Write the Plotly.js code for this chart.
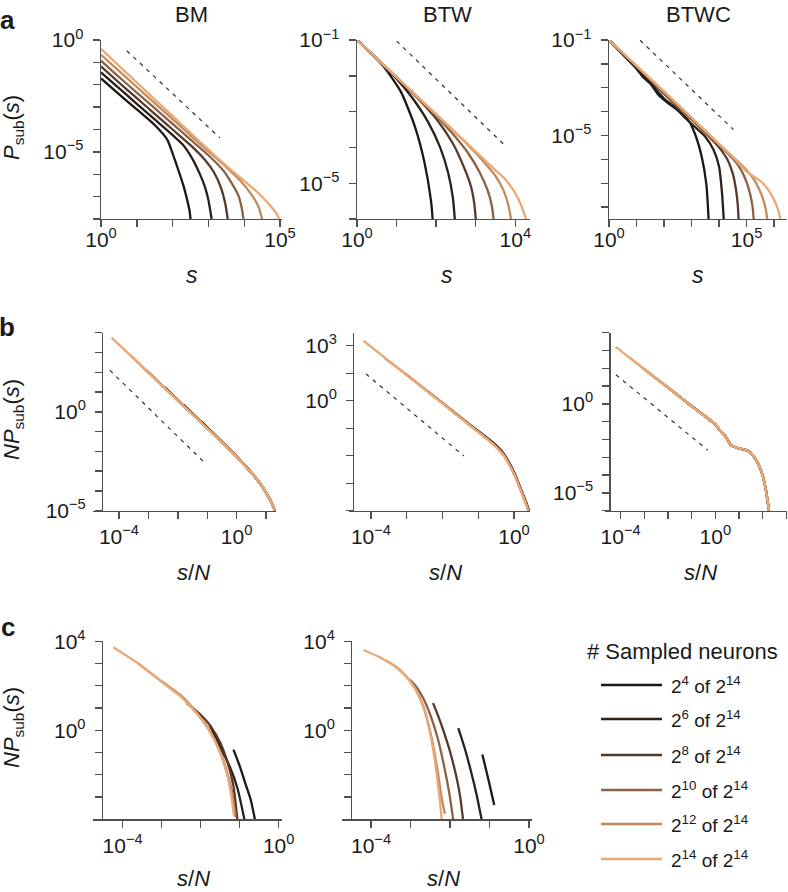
<!DOCTYPE html>
<html><head><meta charset="utf-8">
<script src="https://cdn.plot.ly/plotly-3.0.1.min.js"></script>
<style>html,body{margin:0;padding:0;background:#fff}#chart{width:788px;height:892px}</style>
</head><body><div id="chart"></div>
<script>
const W = 788, H = 892;
const pw = v => Math.pow(10, v);

// Sample sizes (# sampled neurons out of 2^14) and colours
const sampleLabels = ['2<sup>4</sup> of 2<sup>14</sup>', '2<sup>6</sup> of 2<sup>14</sup>', '2<sup>8</sup> of 2<sup>14</sup>',
                      '2<sup>10</sup> of 2<sup>14</sup>', '2<sup>12</sup> of 2<sup>14</sup>', '2<sup>14</sup> of 2<sup>14</sup>'];
const colors = ['#1b1816', '#2b1f18', '#56392a', '#8b6244', '#c58a5c', '#eba877'];

// ---- Row a: log10(s) vs log10(P_sub(s)) ----
const aBM_x = [
  [0,0.5,1,1.5,1.85,2.05,2.2,2.3,2.4,2.47,2.5],
  [0,0.5,1,1.5,2,2.3,2.55,2.75,2.9,3.0,3.09],
  [0,0.5,1,1.5,2,2.5,2.9,3.15,3.35,3.47,3.54],
  [0,0.5,1,1.5,2,2.5,3,3.4,3.65,3.85,3.93,3.98],
  [0,0.5,1,1.5,2,2.5,3,3.5,3.9,4.2,4.4,4.5],
  [0,0.5,1,1.5,2,2.5,3,3.5,4,4.4,4.7,4.9,4.98]];
const aBM_y = [
  [-1.72,-2.42,-3.1,-3.8,-4.45,-5.3,-6.0,-6.5,-7.1,-7.6,-8.0],
  [-1.45,-2.15,-2.85,-3.55,-4.25,-4.7,-5.3,-5.95,-6.55,-7.15,-8.0],
  [-1.18,-1.9,-2.6,-3.3,-4.0,-4.7,-5.35,-5.9,-6.6,-7.3,-8.0],
  [-0.92,-1.65,-2.35,-3.05,-3.75,-4.45,-5.15,-5.8,-6.4,-7.0,-7.5,-8.0],
  [-0.66,-1.38,-2.1,-2.82,-3.54,-4.26,-4.98,-5.68,-6.3,-6.9,-7.45,-8.0],
  [-0.40,-1.15,-1.9,-2.65,-3.4,-4.15,-4.9,-5.62,-6.3,-6.85,-7.35,-7.75,-8.0]];

const aBTW_x = [
  [0,0.35,0.69,1.11,1.45,1.7,1.87,1.91],
  [0,0.6,1,1.4,1.8,2.1,2.3,2.42,2.47],
  [0,1,1.6,2.0,2.4,2.7,2.88,2.96,3.0],
  [0,1,2,2.4,2.8,3.1,3.3,3.4,3.45],
  [0,1,2,2.8,3.2,3.5,3.7,3.82,3.89],
  [0,1,2,3,3.5,3.72,3.97,4.14,4.27]];
const aBTW_y = [
  [-1,-1.36,-1.76,-2.45,-3.38,-4.4,-5.5,-6.0],
  [-1,-1.63,-2.08,-2.62,-3.3,-4.0,-4.7,-5.4,-6.0],
  [-1,-2.05,-2.7,-3.2,-3.85,-4.55,-5.1,-5.55,-6.0],
  [-1,-2.04,-3.12,-3.6,-4.15,-4.7,-5.2,-5.6,-6.0],
  [-1,-2.04,-3.08,-3.93,-4.4,-4.8,-5.2,-5.6,-6.0],
  [-1,-2.04,-3.08,-4.12,-4.64,-4.86,-5.23,-5.6,-6.0]];

const aBTWC_x = [
  [0,0.5,1,1.25,1.5,1.8,2.1,2.47,2.9,3.13,3.38,3.54,3.62],
  [0,1,1.3,1.6,2,2.4,2.8,3.1,3.5,3.8,4.0,4.1,4.17],
  [0,1,2,3,3.6,4.0,4.3,4.5,4.62,4.68,4.71],
  [0,1,2,3,4,4.4,4.7,4.95,5.12,5.22,5.26],
  [0,1,2,3,4,4.6,5.0,5.3,5.55,5.7,5.75],
  [0,1,2,3,4,4.5,5.0,5.3,5.55,5.8,6.0,6.13,6.23]];
const aBTWC_y = [
  [-1,-1.6,-2.2,-2.57,-2.82,-3.3,-3.6,-3.92,-4.39,-4.95,-5.94,-7.06,-8.5],
  [-1,-2.18,-2.5,-2.92,-3.45,-3.82,-4.3,-4.62,-5.05,-5.6,-6.3,-7.3,-8.5],
  [-1,-2.12,-3.25,-4.33,-5.0,-5.5,-6.0,-6.6,-7.3,-7.9,-8.5],
  [-1,-2.1,-3.2,-4.3,-5.4,-5.85,-6.25,-6.8,-7.4,-8.0,-8.5],
  [-1,-2.09,-3.17,-4.27,-5.37,-6.0,-6.45,-6.9,-7.5,-8.1,-8.5],
  [-1,-2.08,-3.15,-4.25,-5.35,-5.9,-6.5,-6.75,-6.95,-7.3,-7.7,-8.05,-8.5]];

// ---- Row b: log10(s/N) vs log10(N P_sub(s)) ----
const bBM_x = [
  [-1.19,-0.11,0.3,0.6,0.91,1.14,1.25,1.31],
  [-1.81,-1,-0.11,0.3,0.6,0.91,1.14,1.25,1.31],
  [-2.44,-2,-1,-0.11,0.3,0.6,0.91,1.14,1.31],
  [-3.06,-2,-1,-0.11,0.3,0.6,0.91,1.14,1.31],
  [-3.62,-3,-2,-1,-0.11,0.3,0.6,0.91,1.14,1.31],
  [-4.25,-3,-2,-1,-0.11,0.3,0.6,0.91,1.14,1.25,1.31]];
const bBM_y = [
  [-0.5,-2.08,-2.73,-3.24,-3.86,-4.45,-4.8,-5.0],
  [0.36,-0.8,-2.08,-2.74,-3.25,-3.87,-4.46,-4.8,-5.0],
  [1.25,0.6,-0.82,-2.09,-2.75,-3.25,-3.87,-4.46,-5.0],
  [2.1,0.58,-0.83,-2.1,-2.75,-3.25,-3.87,-4.46,-5.0],
  [2.88,1.98,0.57,-0.84,-2.1,-2.75,-3.25,-3.87,-4.46,-5.0],
  [3.75,1.98,0.57,-0.84,-2.1,-2.75,-3.25,-3.87,-4.46,-4.8,-5.0]];

const bBTW_x = [
  [-1.2,-0.6,-0.3,0,0.2,0.33,0.42],
  [-1.8,-1.2,-0.6,-0.3,0,0.2,0.33,0.42],
  [-2.42,-2,-1.2,-0.6,-0.3,0,0.2,0.33,0.41],
  [-3.04,-2,-1.2,-0.6,-0.3,0,0.2,0.33,0.41],
  [-3.62,-3,-2,-1.2,-0.6,-0.3,0,0.2,0.32,0.4],
  [-4.21,-3,-2,-1.2,-0.6,-0.3,0,0.2,0.32,0.4]];
const bBTW_y = [
  [-1.37,-2.26,-2.86,-3.9,-4.85,-5.5,-6.0],
  [-0.44,-1.36,-2.28,-2.88,-3.92,-4.88,-5.5,-6.0],
  [0.52,-0.12,-1.37,-2.3,-2.9,-3.95,-4.9,-5.55,-6.0],
  [1.48,-0.13,-1.38,-2.32,-2.93,-3.97,-4.92,-5.55,-6.0],
  [2.32,1.41,-0.14,-1.4,-2.34,-2.95,-4.0,-4.95,-5.55,-6.0],
  [3.27,1.4,-0.15,-1.4,-2.35,-2.95,-4.0,-4.95,-5.55,-6.0]];

const bBTWC_x = [
  [-1.2,-1,0,0.2,0.45,0.65,1.0,1.4,1.7,1.95,2.12,2.27],
  [-1.8,-1,0,0.2,0.45,0.65,1.0,1.4,1.7,1.95,2.12,2.27],
  [-2.41,-2,-1,0,0.2,0.45,0.65,1.0,1.4,1.7,1.95,2.12,2.27],
  [-3.01,-2,-1,0,0.2,0.45,0.65,1.0,1.4,1.7,1.95,2.12,2.27],
  [-3.62,-3,-2,-1,0,0.2,0.45,0.65,1.0,1.4,1.7,1.95,2.12,2.27],
  [-4.21,-3,-2,-1,0,0.2,0.45,0.65,1.0,1.4,1.7,1.95,2.12,2.27]];
const bBTWC_y = [
  [0.08,-0.12,-1.15,-1.5,-1.85,-2.3,-2.5,-2.65,-3.1,-3.8,-4.7,-6.0],
  [0.72,-0.12,-1.15,-1.5,-1.85,-2.3,-2.5,-2.65,-3.1,-3.8,-4.7,-6.0],
  [1.35,0.92,-0.12,-1.15,-1.5,-1.85,-2.3,-2.5,-2.65,-3.1,-3.8,-4.7,-6.0],
  [1.96,0.92,-0.12,-1.15,-1.5,-1.85,-2.3,-2.5,-2.65,-3.1,-3.8,-4.7,-6.0],
  [2.6,1.95,0.92,-0.12,-1.15,-1.5,-1.85,-2.3,-2.5,-2.65,-3.1,-3.8,-4.7,-6.0],
  [3.2,1.95,0.92,-0.12,-1.15,-1.5,-1.85,-2.3,-2.5,-2.65,-3.1,-3.8,-4.7,-6.0]];

// ---- Row c: log10(s/N) vs log10(N P_sub(s)) ----
const cBM_x = [
  [-1.16,-1.0,-0.86,-0.72,-0.61],
  [-1.76,-1.5,-1.25,-1.05,-0.88],
  [-2.36,-2.0,-1.75,-1.5,-1.3,-1.16,-1.06],
  [-3.0,-2.5,-2.1,-1.8,-1.5,-1.3,-1.17,-1.1],
  [-3.6,-3.0,-2.5,-2.1,-1.8,-1.5,-1.29,-1.18,-1.13],
  [-4.24,-3.6,-3.0,-2.5,-2.1,-1.8,-1.5,-1.29,-1.2,-1.15]];
const cBM_y = [
  [-0.87,-1.6,-2.36,-3.1,-4.0],
  [0.2,-0.75,-1.65,-2.65,-4.0],
  [1.22,0.7,0.2,-0.55,-1.5,-2.5,-4.0],
  [2.2,1.55,0.8,0.08,-0.95,-2.05,-3.0,-3.9],
  [3.0,2.19,1.52,0.78,0.06,-0.98,-2.15,-3.1,-3.85],
  [3.73,3.0,2.19,1.5,0.76,0.05,-1.01,-2.21,-3.1,-3.8]];

const cBTW_x = [
  [-1.18,-1.03,-0.88],
  [-1.79,-1.62,-1.46,-1.32,-1.2],
  [-2.43,-2.3,-2.15,-2.0,-1.85,-1.75,-1.67],
  [-3.01,-2.85,-2.68,-2.5,-2.32,-2.15,-2.02,-1.92],
  [-3.6,-3.4,-3.1,-2.88,-2.68,-2.47,-2.32,-2.22,-2.13],
  [-4.19,-3.8,-3.4,-3.1,-2.88,-2.68,-2.47,-2.34,-2.26,-2.21]];
const cBTW_y = [
  [-1.09,-2.2,-3.36],
  [0.1,-0.85,-1.91,-2.95,-4.0],
  [1.22,0.65,-0.1,-0.95,-2.0,-2.9,-4.0],
  [2.27,1.95,1.45,0.7,-0.3,-1.6,-2.8,-4.0],
  [3.12,2.9,2.42,1.88,1.12,-0.3,-1.75,-2.95,-3.75],
  [3.61,3.3,2.88,2.4,1.85,1.07,-0.42,-1.91,-3.1,-4.0]];

// Reference power-law guide lines (dashed), log10 endpoints
const guide_aBM   = {x:[0.72,3.32],  y:[-0.48,-4.375]};
const guide_aBTW  = {x:[1.0,3.74],   y:[-1.03,-3.95]};
const guide_aBTWC = {x:[1.13,4.52],  y:[-1.01,-4.75]};
const guide_bBM   = {x:[-4.31,-1.07],y:[2.1,-2.6]};
const guide_bBTW  = {x:[-4.14,-1.4], y:[1.46,-3.02]};
const guide_bBTWC = {x:[-4.2,-0.32], y:[1.64,-2.6]};

// Tick exponents and labelled exponents
const ticks = {
  aBM_x:[0,1,2,3,4,5], aBM_xl:[0,5], aBM_y:[0,-1,-2,-3,-4,-5,-6,-7,-8], aBM_yl:[0,-5],
  aBTW_x:[0,1,2,3,4], aBTW_xl:[0,4], aBTW_y:[-1,-2,-3,-4,-5,-6], aBTW_yl:[-1,-5],
  aBTWC_x:[0,1,2,3,4,5,6], aBTWC_xl:[0,5], aBTWC_y:[-1,-2,-3,-4,-5,-6,-7,-8], aBTWC_yl:[-1,-5],
  bBM_x:[-4,-3,-2,-1,0,1], bBM_xl:[-4,0], bBM_y:[4,3,2,1,0,-1,-2,-3,-4,-5], bBM_yl:[0,-5],
  bBTW_x:[-4,-3,-2,-1,0], bBTW_xl:[-4,0], bBTW_y:[3,1.5,0,-1.5,-3,-4.5,-6], bBTW_yl:[3,0],
  bBTWC_x:[-4,-3,-2,-1,0,1,2,3], bBTWC_xl:[-4,0], bBTWC_y:[4,3,2,1,0,-1,-2,-3,-4,-5,-6], bBTWC_yl:[0,-5],
  cBM_x:[-4,-3,-2,-1,0], cBM_xl:[-4,0], cBM_y:[4,3,2,1,0,-1,-2,-3,-4], cBM_yl:[4,0],
  cBTW_x:[-4,-3,-2,-1,0], cBTW_xl:[-4,0], cBTW_y:[4,3,2,1,0,-1,-2,-3,-4], cBTW_yl:[4,0]
};

const traces = [];
function addPanel(xs, ys, xa, ya, guide) {
  xs.forEach((xl, i) => traces.push({
    type:'scatter', mode:'lines', x: xl.map(pw), y: ys[i].map(pw), xaxis: xa, yaxis: ya,
    line:{color: colors[i], width: 2.3, shape:'spline', smoothing:0.6}, showlegend:false, hoverinfo:'skip'}));
  if (guide) traces.push({type:'scatter', mode:'lines', x: guide.x.map(pw), y: guide.y.map(pw), xaxis: xa, yaxis: ya,
    line:{color:'#333', width:1.2, dash:'4px,5px'}, showlegend:false, hoverinfo:'skip'});
}
addPanel(aBM_x, aBM_y, 'x', 'y', guide_aBM);
addPanel(aBTW_x, aBTW_y, 'x2', 'y2', guide_aBTW);
addPanel(aBTWC_x, aBTWC_y, 'x3', 'y3', guide_aBTWC);
addPanel(bBM_x, bBM_y, 'x4', 'y4', guide_bBM);
addPanel(bBTW_x, bBTW_y, 'x5', 'y5', guide_bBTW);
addPanel(bBTWC_x, bBTWC_y, 'x6', 'y6', guide_bBTWC);
addPanel(cBM_x, cBM_y, 'x7', 'y7', null);
addPanel(cBTW_x, cBTW_y, 'x8', 'y8', null);

const sup = e => '10<sup>' + (e < 0 ? '\u2212' + (-e) : e) + '</sup>';
function axis(exps, labeled, range, extra, standoff) {
  return Object.assign({
    type:'log', range: range, showline:true, linecolor:'#505050', linewidth:1.4,
    ticks:'outside', ticklen:7, tickwidth:1.4, tickcolor:'#505050', showgrid:false, zeroline:false,
    tickmode:'array', tickvals: exps.map(pw), ticktext: exps.map(e => labeled.includes(e) ? sup(e) : ''),
    tickfont:{size:21, color:'#1a1a1a'}, fixedrange:true, ticklabelstandoff: standoff || 0
  }, extra);
}
const px = v => v / W, py = v => 1 - v / H;
const rowA = [py(219), py(40)], rowB = [py(510.7), py(332.7)], rowC = [py(819.3), py(641.3)];

const layout = {
  width: W, height: H, margin:{l:0, r:0, t:0, b:0},
  paper_bgcolor:'#fff', plot_bgcolor:'rgba(0,0,0,0)',
  font:{family:'Liberation Sans, Arial, Helvetica, sans-serif', size:18, color:'#1a1a1a'},
  showlegend:false,
  xaxis:  axis(ticks.aBM_x, ticks.aBM_xl, [0, 5.056], {domain:[px(101), px(282)], anchor:'y'}, -6),
  yaxis:  axis(ticks.aBM_y, ticks.aBM_yl, [-8, 0], {domain: rowA, anchor:'x'}, 5),
  xaxis2: axis(ticks.aBTW_x, ticks.aBTW_xl, [0, 4.369], {domain:[px(357), px(530)], anchor:'y2'}, -6),
  yaxis2: axis(ticks.aBTW_y, ticks.aBTW_yl, [-6, -1], {domain: rowA, anchor:'x2'}, 5),
  xaxis3: axis(ticks.aBTWC_x, ticks.aBTWC_xl, [0, 6.47], {domain:[px(609), px(787)], anchor:'y3'}, -6),
  yaxis3: axis(ticks.aBTWC_y, ticks.aBTWC_yl, [-8.5, -1], {domain: rowA, anchor:'x3'}, 5),
  xaxis4: axis(ticks.bBM_x, ticks.bBM_xl, [-4.884, 1.34], {domain:[px(93), px(276)], anchor:'y4'}),
  yaxis4: axis(ticks.bBM_y, ticks.bBM_yl, [-5, 4], {domain: rowB, anchor:'free', position: px(102)}, 5),
  xaxis5: axis(ticks.bBTW_x, ticks.bBTW_xl, [-4.615, 0.448], {domain:[px(349), px(530)], anchor:'y5'}),
  yaxis5: axis(ticks.bBTW_y, ticks.bBTW_yl, [-6, 3.71], {domain: rowB, anchor:'free', position: px(353)}, 5),
  xaxis6: axis(ticks.bBTWC_x, ticks.bBTWC_xl, [-4.66, 3.03], {domain:[px(605), px(787)], anchor:'y6'}),
  yaxis6: axis(ticks.bBTWC_y, ticks.bBTWC_yl, [-6, 4], {domain: rowB, anchor:'free', position: px(609.3)}, 5),
  xaxis7: axis(ticks.cBM_x, ticks.cBM_xl, [-4.76, 0.085], {domain:[px(93), px(282)], anchor:'y7'}),
  yaxis7: axis(ticks.cBM_y, ticks.cBM_yl, [-4, 4], {domain: rowC, anchor:'free', position: px(101.7)}, 5),
  xaxis8: axis(ticks.cBTW_x, ticks.cBTW_xl, [-4.742, 0.076], {domain:[px(341.7), px(532)], anchor:'y8'}),
  yaxis8: axis(ticks.cBTW_y, ticks.cBTW_yl, [-4, 4], {domain: rowC, anchor:'free', position: px(351)}, 5),
  annotations: [], shapes: []
};

const A = (text, x, y, o) => layout.annotations.push(Object.assign({
  text, x: px(x), y: py(y), xref:'paper', yref:'paper', showarrow:false,
  xanchor:'center', yanchor:'middle', font:{size:22, color:'#1a1a1a'}}, o || {}));

// panel letters
A('<b>a</b>', 7, 20, {font:{size:26}});
A('<b>b</b>', 7, 327, {font:{size:26}});
A('<b>c</b>', 8, 627, {font:{size:26}});
// column titles
A('BM', 191, 14); A('BTW', 447, 14); A('BTWC', 698, 14);
// y titles
const yTitleP = '<i>P</i><sub>sub</sub>(<i>s</i>)';
const yTitleNP = '<i>NP</i><sub>sub</sub>(<i>s</i>)';
A(yTitleP, 13, 128, {textangle:-90, font:{size:22}});
A(yTitleNP, 13, 420, {textangle:-90, font:{size:22}});
A(yTitleNP, 13, 728, {textangle:-90, font:{size:22}});
// x titles
const xTitleS = '<i>s</i>', xTitleSN = '<i>s</i>/<i>N</i>';
A(xTitleS, 192, 275, {font:{size:23}}); A(xTitleS, 447, 275, {font:{size:23}}); A(xTitleS, 698, 275, {font:{size:23}});
A(xTitleSN, 193, 572, {font:{size:22}}); A(xTitleSN, 445, 572, {font:{size:22}}); A(xTitleSN, 700, 572, {font:{size:22}});
A(xTitleSN, 193, 878, {font:{size:22}}); A(xTitleSN, 443, 878, {font:{size:22}});

// legend (drawn manually)
const legendTitle = '# Sampled neurons';
const legendY = [685, 719, 755, 790, 824, 859];
A(legendTitle, 682, 651, {font:{size:22}});
sampleLabels.forEach((lab, i) => {
  layout.shapes.push({type:'line', xref:'paper', yref:'paper', x0: px(601), x1: px(662), y0: py(legendY[i]), y1: py(legendY[i]),
    line:{color: colors[i], width: 2.4}});
  A(lab, 669, legendY[i], {xanchor:'left', font:{size:19}});
});

Plotly.newPlot('chart', traces, layout, {staticPlot:true, displayModeBar:false});
</script>
</body></html>
